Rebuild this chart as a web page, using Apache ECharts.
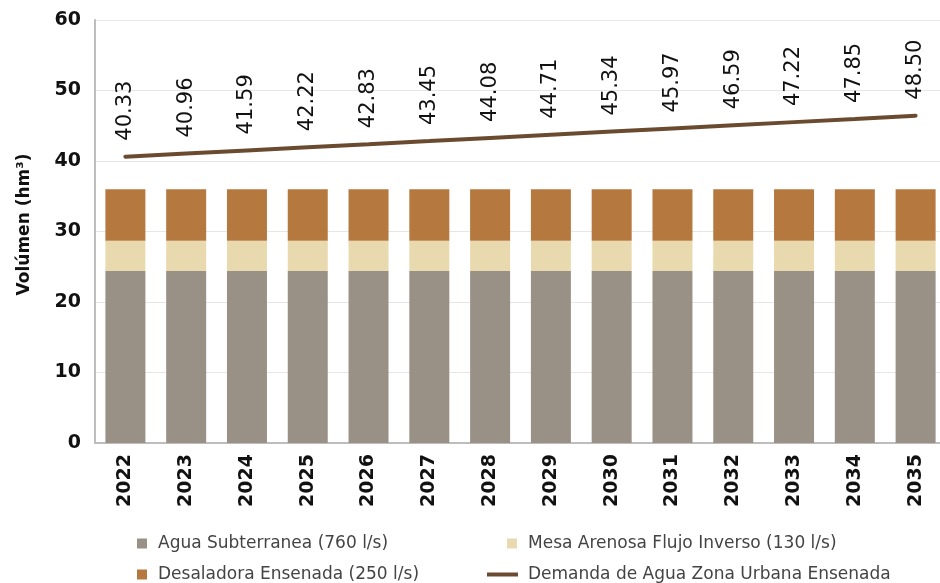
<!DOCTYPE html>
<html>
<head>
<meta charset="utf-8">
<script src="https://cdn.jsdelivr.net/npm/echarts@6/dist/echarts.min.js"></script>
<style>html,body{margin:0;padding:0;background:#fff}#c{width:940px;height:583px}</style>
</head>
<body>
<div id="c"></div>
<script>
const years = ['2022','2023','2024','2025','2026','2027','2028','2029','2030','2031','2032','2033','2034','2035'];
const aguaSubterranea = [24.4,24.4,24.4,24.4,24.4,24.4,24.4,24.4,24.4,24.4,24.4,24.4,24.4,24.4];
const mesaArenosa = [4.3,4.3,4.3,4.3,4.3,4.3,4.3,4.3,4.3,4.3,4.3,4.3,4.3,4.3];
const desaladora = [7.3,7.3,7.3,7.3,7.3,7.3,7.3,7.3,7.3,7.3,7.3,7.3,7.3,7.3];
const demanda = [40.33,40.96,41.59,42.22,42.83,43.45,44.08,44.71,45.34,45.97,46.59,47.22,47.85,48.50];
const yTicks = [0,10,20,30,40,50,60];

const names = {
  agua: 'Agua Subterranea (760 l/s)',
  mesa: 'Mesa Arenosa Flujo Inverso (130 l/s)',
  desal: 'Desaladora Ensenada (250 l/s)',
  dem: 'Demanda de Agua Zona Urbana Ensenada'
};
const colors = {agua:'#9a9186', mesa:'#e9d9ae', desal:'#b5793f', dem:'#6b4b30'};
const legendText = {color:'#444', fontSize:17, fontFamily:'DejaVu Sans'};

function legend(name, left, top, icon, w, h, pad) {
  return {data:[{name:name, icon:icon}], left:left, top:top, itemWidth:w, itemHeight:h,
    textStyle:Object.assign({}, legendText, {padding:[0,0,0,pad]}), selectedMode:false};
}

const chart = echarts.init(document.getElementById('c'), null, {renderer:'canvas'});
chart.setOption({
  animation:false,
  backgroundColor:'#fff',
  grid:{left:95, top:20, width:851, bottom:140, containLabel:false, outerBoundsMode:'none'},
  legend:[
    legend(names.agua, 132, 530, 'rect', 10, 10, 6),
    legend(names.desal, 132, 561, 'rect', 10, 10, 6),
    legend(names.mesa, 502, 530, 'rect', 10, 10, 6),
    legend(names.dem, 482, 561, 'rect', 31, 4, 5)
  ],
  xAxis:{type:'category', data:years,
    axisLine:{lineStyle:{color:'#bdbdbd', width:2}},
    axisTick:{show:false},
    axisLabel:{rotate:90, margin:11, color:'#111', fontSize:19, fontWeight:'bold', fontFamily:'DejaVu Sans'}
  },
  yAxis:[{type:'value', min:yTicks[0], max:yTicks[yTicks.length-1], interval:10,
    name:'Volúmen (hm³)', nameLocation:'middle', nameGap:62, nameRotate:90,
    nameTextStyle:{color:'#111', fontSize:17, fontWeight:'bold', fontFamily:'DejaVu Sans', padding:[0,0,0,14]},
    axisLine:{show:true, lineStyle:{color:'#bdbdbd', width:2}},
    axisTick:{show:false},
    splitLine:{lineStyle:{color:'#e6e6e6', width:1}},
    axisLabel:{margin:14, color:'#111', fontSize:19, fontWeight:'bold', fontFamily:'DejaVu Sans'}
  },{type:'value', min:-16.72, max:67.57, show:false, splitLine:{show:false}}],
  series:[
    {name:names.agua, type:'bar', stack:'t', data:aguaSubterranea, barWidth:40, itemStyle:{color:colors.agua}},
    {name:names.mesa, type:'bar', stack:'t', data:mesaArenosa, barWidth:40, itemStyle:{color:colors.mesa}},
    {name:names.desal, type:'bar', stack:'t', data:desaladora, barWidth:40, itemStyle:{color:colors.desal}},
    {name:names.dem, type:'line', yAxisIndex:1, data:demanda, symbol:'circle', symbolSize:0, showSymbol:true,
      itemStyle:{color:colors.dem}, lineStyle:{color:colors.dem, width:4, cap:'round'},
      label:{show:true, position:'top', distance:9, rotate:90, align:'left', verticalAlign:'middle',
        offset:[7,0], color:'#111', fontSize:21, fontFamily:'DejaVu Sans',
        formatter:p => p.value.toFixed(2)}
    }
  ]
});
</script>
</body>
</html>
